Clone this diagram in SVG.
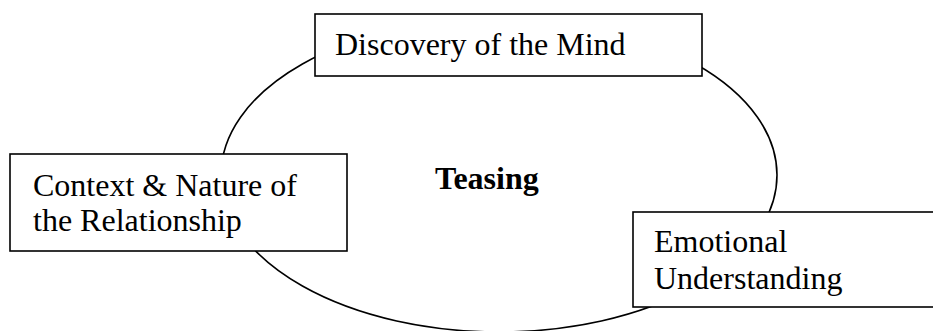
<svg xmlns="http://www.w3.org/2000/svg" width="933" height="331" viewBox="0 0 933 331">
<style>
.box{fill:#fff;stroke:#000;stroke-width:1.6}
.cyc{fill:none;stroke:#000;stroke-width:1.6}
.lbl{font-family:"Liberation Serif","Times New Roman",serif;font-size:32px;fill:#000}
.ctr{font-family:"Liberation Serif","Times New Roman",serif;font-size:32px;font-weight:bold;fill:#000}
</style>
<rect width="933" height="331" fill="#fff"/>
<g id="connectors">
<ellipse class="cyc" cx="499" cy="175" rx="278" ry="157"/>
</g>
<g id="teasing">
<text class="ctr" x="435" y="189">Teasing</text>
</g>
<g id="discovery">
<rect class="box" x="315" y="14" width="387" height="62"/>
<text class="lbl" x="335" y="55">Discovery of the Mind</text>
</g>
<g id="context">
<rect class="box" x="10" y="154" width="337" height="97"/>
<text class="lbl" x="33" y="196">Context &amp; Nature of</text>
<text class="lbl" x="33" y="231">the Relationship</text>
</g>
<g id="emotional">
<rect class="box" x="633" y="212" width="320" height="95"/>
<text class="lbl" x="654" y="252">Emotional</text>
<text class="lbl" x="654" y="289">Understanding</text>
</g>
</svg>
